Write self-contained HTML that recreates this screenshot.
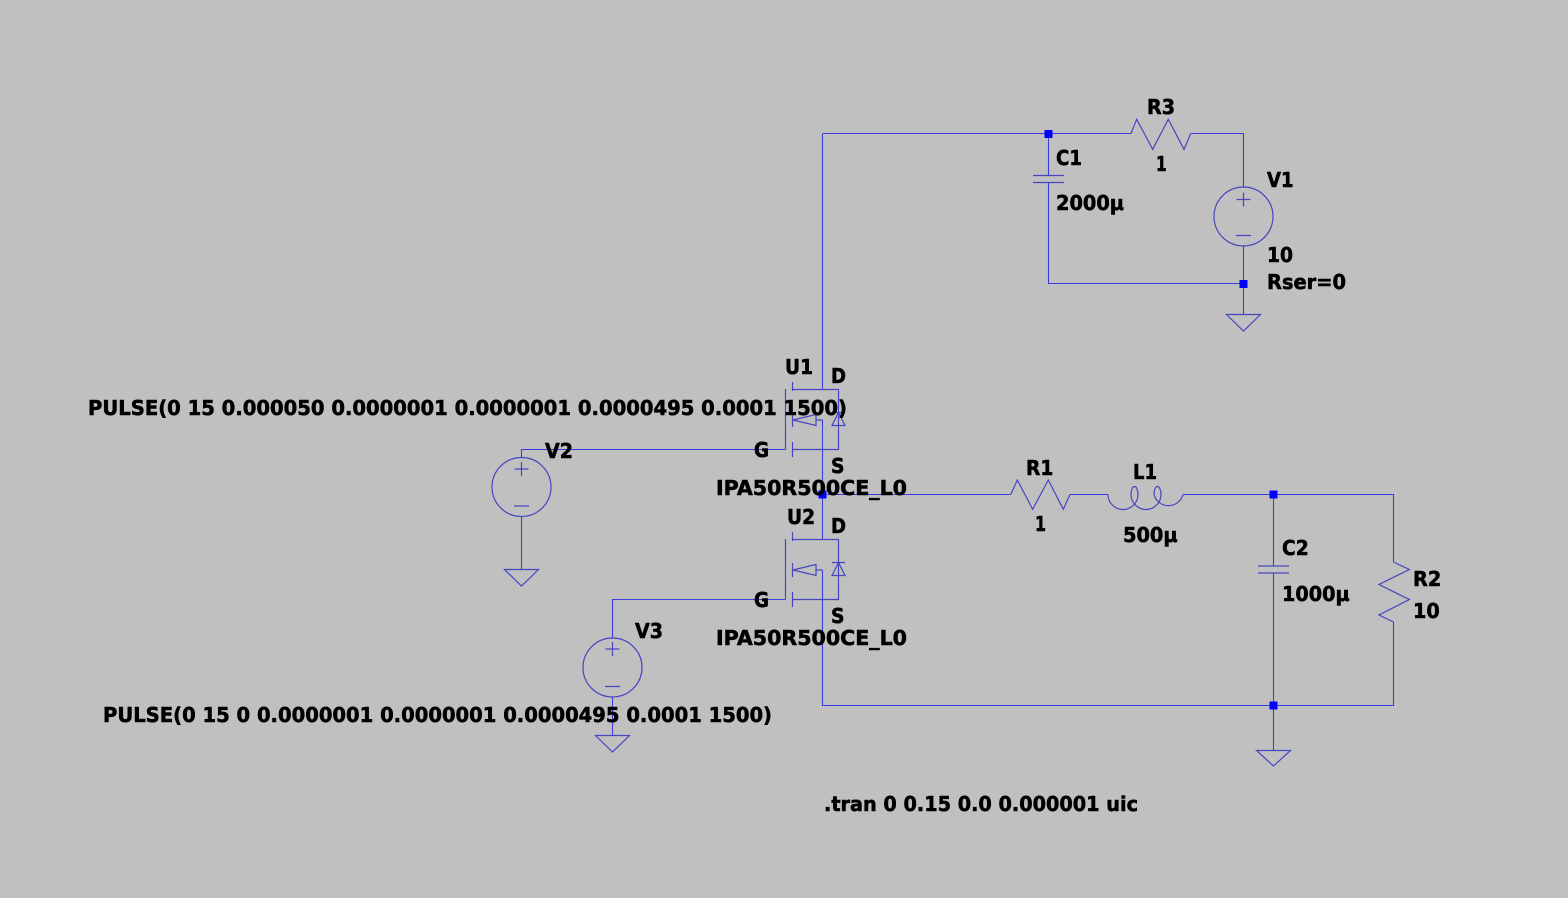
<!DOCTYPE html>
<html><head><meta charset="utf-8"><style>
html,body{margin:0;padding:0;background:#c0c0c0;}
svg{display:block;}
text{font-family:"DejaVu Sans","Liberation Sans",sans-serif;font-weight:bold;font-size:20px;fill:#000;stroke:#000;stroke-width:0.55px;}
</style></head><body>
<svg width="1568" height="898" viewBox="0 0 1568 898" xmlns="http://www.w3.org/2000/svg">
<rect x="0" y="0" width="1568" height="898" fill="#c0c0c0"/>
<!-- wires -->
<g stroke="#3c3ce0" stroke-width="1.1" fill="none">
  <path d="M822.5,133.5 H1131 M1190.7,133.5 H1243.5 V187"/>
  <path d="M822.5,133.5 V389.5"/>
  <path d="M1048.5,133.5 V175.5 M1048.5,182.5 V283.5 H1243.5"/>
  <path d="M1243.5,246 V314"/>
  <path d="M822.5,420 V539.5"/>
  <path d="M822.5,570 V705.5 H1393.5 V622"/>
  <path d="M822.5,494.5 H1010.7 M1070,494.5 H1108 M1183,494.5 H1393.5 V562"/>
  <path d="M1273.5,494.5 V566 M1273.5,573 V750"/>
  <path d="M521.5,457.5 V449.5 H785.5"/>
  <path d="M521.5,516.5 V569"/>
  <path d="M612.5,638 V599.5 H785.5"/>
  <path d="M612.5,697 V735"/>
</g>
<!-- components -->
<g stroke="#4646c0" stroke-width="1.2" fill="none">
  <polyline points="1131,133.5 1136.7,119.3 1152.7,149.3 1168.3,119.3 1184,149.3 1190.7,133.5"/>
  <path d="M1033,175.5 H1064 M1033,182.5 H1064"/>
  <circle cx="1243.5" cy="216.5" r="29.5"/>
  <path d="M1243.5,192.5 V206.5 M1236.5,199.5 H1250.5 M1236,235.5 H1251"/>
  <polygon points="1226.5,314.5 1260.5,314.5 1243.5,331"/>
  <polygon points="504.5,569.5 538.5,569.5 521.5,586"/>
  <polygon points="595.5,735.5 629.5,735.5 612.5,752"/>
  <polygon points="1256.5,750.5 1290.5,750.5 1273.5,766"/>
  <circle cx="521.5" cy="487" r="29.5"/>
  <path d="M521.5,462 V476 M514.5,469 H528.5 M514,506 H529"/>
  <circle cx="612.5" cy="667.5" r="29.5"/>
  <path d="M612.5,642 V656 M605.5,649 H619.5 M605,686.5 H620"/>
  <polyline points="1010.7,494.5 1017.3,480 1032.7,509.3 1048.3,480 1063.3,509.3 1070,494.5"/>
  <path d="M1108,494.5 A15,15 0 0 0 1138,494.5 A3.5,8 0 0 0 1131,494.5 A15,15 0 0 0 1161,494.5 A3.5,8 0 0 0 1154,494.5 A15,15 0 0 0 1183,494.5"/>
  <path d="M1258,566 H1289 M1258,573 H1289"/>
  <polyline points="1393.5,562 1409.3,569.5 1379,584.5 1409.3,599.5 1379,615 1393.5,622"/>
  <path d="M785.5,389 V449.5 M792.5,382 V391 M792.5,413 V427 M792.5,442 V457"/>
  <path d="M792.5,389.5 H838.5 V449.5 H792.5"/>
  <polygon points="816,414.5 793,420 816,425.5"/>
  <path d="M816,420 H822.5"/>
  <path d="M832,412.5 H845 M832,425.5 H845 L838.5,412.5 Z"/>
  <path d="M785.5,539 V599.5 M792.5,532 V541 M792.5,563 V577 M792.5,592 V607"/>
  <path d="M792.5,539.5 H838.5 V599.5 H792.5"/>
  <polygon points="816,564.5 793,570 816,575.5"/>
  <path d="M816,570 H822.5"/>
  <path d="M832,562.5 H845 M832,575.5 H845 L838.5,562.5 Z"/>
</g>
<g fill="#0000ff">
  <rect x="1044.5" y="130" width="8" height="8"/>
  <rect x="1239.5" y="280" width="8" height="8"/>
  <rect x="818.5" y="490.5" width="8" height="8"/>
  <rect x="1269.5" y="490.5" width="8" height="8"/>
  <rect x="1269.5" y="701.5" width="8" height="8"/>
</g>
<text x="88" y="415" textLength="759" lengthAdjust="spacingAndGlyphs">PULSE(0 15 0.000050 0.0000001 0.0000001 0.0000495 0.0001 1500)</text>
<text x="103" y="722" textLength="669" lengthAdjust="spacingAndGlyphs">PULSE(0 15 0 0.0000001 0.0000001 0.0000495 0.0001 1500)</text>
<text x="785" y="374" textLength="28" lengthAdjust="spacingAndGlyphs">U1</text>
<text x="831" y="383" textLength="15" lengthAdjust="spacingAndGlyphs">D</text>
<text x="754" y="457" textLength="15" lengthAdjust="spacingAndGlyphs">G</text>
<text x="831" y="473" textLength="13.5" lengthAdjust="spacingAndGlyphs">S</text>
<text x="716" y="495" textLength="191" lengthAdjust="spacingAndGlyphs">IPA50R500CE_L0</text>
<text x="787" y="524" textLength="28" lengthAdjust="spacingAndGlyphs">U2</text>
<text x="831" y="533" textLength="15" lengthAdjust="spacingAndGlyphs">D</text>
<text x="754" y="607" textLength="15" lengthAdjust="spacingAndGlyphs">G</text>
<text x="831" y="623" textLength="13.5" lengthAdjust="spacingAndGlyphs">S</text>
<text x="716" y="645" textLength="191" lengthAdjust="spacingAndGlyphs">IPA50R500CE_L0</text>
<text x="545" y="458" textLength="28" lengthAdjust="spacingAndGlyphs">V2</text>
<text x="635" y="638" textLength="28" lengthAdjust="spacingAndGlyphs">V3</text>
<text x="1147" y="114" textLength="28" lengthAdjust="spacingAndGlyphs">R3</text>
<text x="1156" y="171" textLength="10.7" lengthAdjust="spacingAndGlyphs">1</text>
<text x="1056" y="165" textLength="26" lengthAdjust="spacingAndGlyphs">C1</text>
<text x="1056" y="210" textLength="68" lengthAdjust="spacingAndGlyphs">2000µ</text>
<text x="1267" y="187" textLength="26.5" lengthAdjust="spacingAndGlyphs">V1</text>
<text x="1267" y="262" textLength="26" lengthAdjust="spacingAndGlyphs">10</text>
<text x="1267" y="289" textLength="79" lengthAdjust="spacingAndGlyphs">Rser=0</text>
<text x="1026" y="475" textLength="27.3" lengthAdjust="spacingAndGlyphs">R1</text>
<text x="1035" y="531" textLength="11" lengthAdjust="spacingAndGlyphs">1</text>
<text x="1133" y="479" textLength="24" lengthAdjust="spacingAndGlyphs">L1</text>
<text x="1123" y="542" textLength="54.6" lengthAdjust="spacingAndGlyphs">500µ</text>
<text x="1282" y="555" textLength="26.7" lengthAdjust="spacingAndGlyphs">C2</text>
<text x="1282" y="601" textLength="67.6" lengthAdjust="spacingAndGlyphs">1000µ</text>
<text x="1413" y="586" textLength="28.3" lengthAdjust="spacingAndGlyphs">R2</text>
<text x="1413" y="618" textLength="26.7" lengthAdjust="spacingAndGlyphs">10</text>
<text x="824" y="811" textLength="314" lengthAdjust="spacingAndGlyphs">.tran 0 0.15 0.0 0.000001 uic</text>
</svg>
</body></html>
